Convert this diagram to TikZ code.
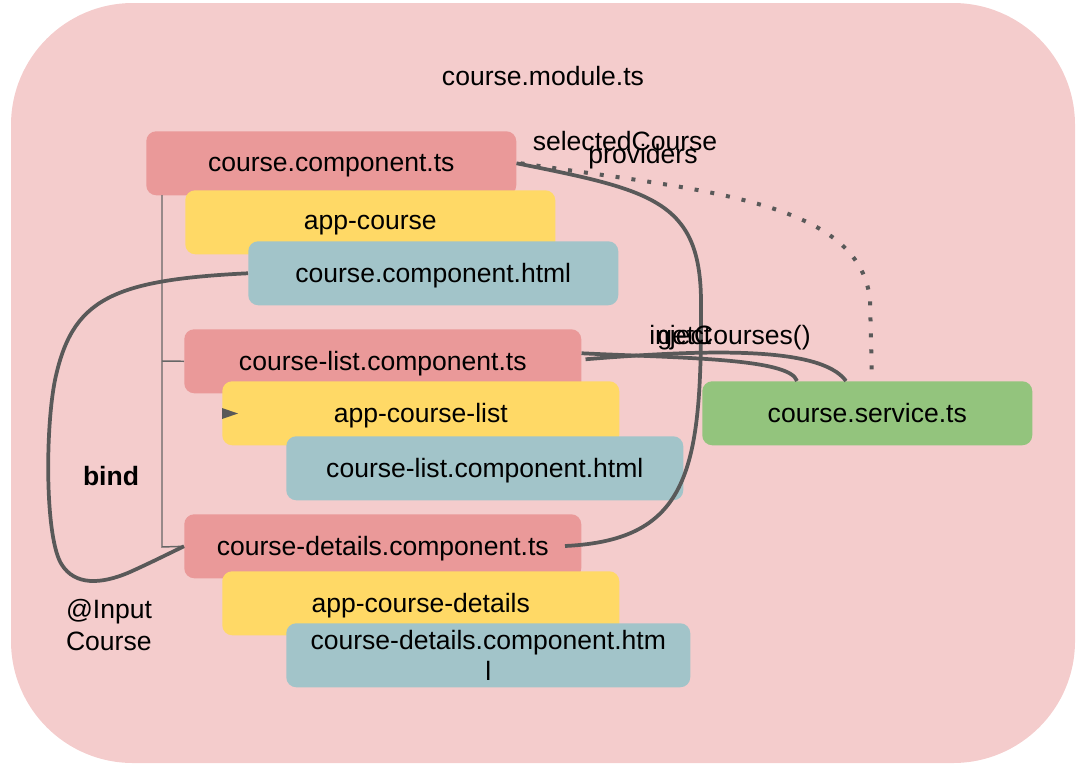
\documentclass[tikz,border=0pt]{standalone}
\usepackage{fontspec}
\setmainfont{Liberation Sans}
\usetikzlibrary{calc}
\definecolor{bgpink}{HTML}{F4CCCC}
\definecolor{nodered}{HTML}{EA9999}
\definecolor{nodeyellow}{HTML}{FFD966}
\definecolor{nodeteal}{HTML}{A2C4C9}
\definecolor{nodegreen}{HTML}{93C47D}
\definecolor{linegray}{HTML}{595959}
\definecolor{treegray}{HTML}{666666}
\begin{document}
\begin{tikzpicture}[x=0.75pt,y=-0.75pt,
  font=\fontsize{19.9}{23.3}\selectfont,
  box/.style={rounded corners=7.5pt, inner sep=0pt, anchor=north west, align=center, minimum height=48pt, text depth=0pt},
  redbox/.style={box, fill=nodered},
  yellowbox/.style={box, fill=nodeyellow},
  tealbox/.style={box, fill=nodeteal},
  greenbox/.style={box, fill=nodegreen},
  narrow/.style={minimum width=277.5pt},
  wide/.style={minimum width=297.75pt},
  lbl/.style={inner sep=0pt},
  conn/.style={draw=linegray, line width=2.8pt},
  dots/.style={draw=linegray, line width=3pt, dash pattern=on 3pt off 9pt},
  tree/.style={draw=treegray, line width=1.1pt}
]
\useasboundingbox (0,0) rectangle (1080,764);
\fill[bgpink, rounded corners=91.5pt] (11,3) rectangle (1075,763);

\node[lbl] (module) at (543,76) {course.module.ts};

% course component group
\node[redbox, narrow] (cts) at (146,131) {course.component.ts};
\node[yellowbox, narrow] (appc) at (185,190) {app-course};
\node[tealbox, narrow] (htmlc) at (248,241) {course.component.html};

% course list group
\node[redbox, wide] (lts) at (184,329) {course-list.component.ts};
\node[yellowbox, wide] (appl) at (222,381) {app-course-list};
\node[tealbox, wide] (lhtml) at (286,436) {course-list.component.html};

% course details group
\node[redbox, wide] (dts) at (184,514) {course-details.component.ts};
\node[yellowbox, wide] (appd) at (222,571) {app-course-details};
\node[tealbox, minimum width=303pt] (dhtml) at (286,623) {course-details.component.htm\\l};

% service
\node[greenbox, minimum width=247.5pt] (svc) at (702,381) {course.service.ts};

% tree lines
\coordinate (treetop) at (162,195);
\draw[tree] (treetop) -- (162,547) -- (dts.west);
\draw[tree] (162,361) -- (lts.west);

% small arrow tip at app-course-list
\fill[linegray] (222,408) -- (238,413.5) -- (222,419) -- cycle;

% bind curve
\draw[conn] (htmlc.west) .. controls (110,280) and (72,300) .. (55,380)
  .. controls (45,430) and (45,540) .. (62,565)
  .. controls (75,585) and (100,585) .. (130,572)
  .. controls (150,563) and (170,553) .. (dts.west);

% course.component.ts -> course-details
\coordinate (dend) at (565,546);
\draw[conn] (cts.east) .. controls (650,190) and (700,200) .. (701,300)
  .. controls (702,470) and (690,540) .. (dend);

% providers dotted
\draw[dots] ($(cts.east)+(4,0)$) .. controls (700,190) and (860,200) .. (870,300) -- ($(svc.north west)+(170,0)$);

% inject / getCourses
\draw[conn] ($(lts.east)+(0,-8)$) .. controls (680,358) and (790,358) .. ($(svc.north west)+(95,0)$);
\draw[conn] ($(lts.east)+(4,-2)$) .. controls (700,350) and (820,345) .. ($(svc.north west)+(144,0)$);

% labels
\node[lbl] (sel) at (625,141) {selectedCourse};
\node[lbl] (prov) at (643,157) {providers};
\node[lbl, anchor=west] (inj) at (649,338) {inject};
\node[lbl, anchor=west] (getc) at (657,338) {getCourses()};
\node[lbl] (bind) at (111,476) {\textbf{bind}};
\node[lbl, align=left] (inp) at (109,625) {@Input\\Course};
\end{tikzpicture}
\end{document}
